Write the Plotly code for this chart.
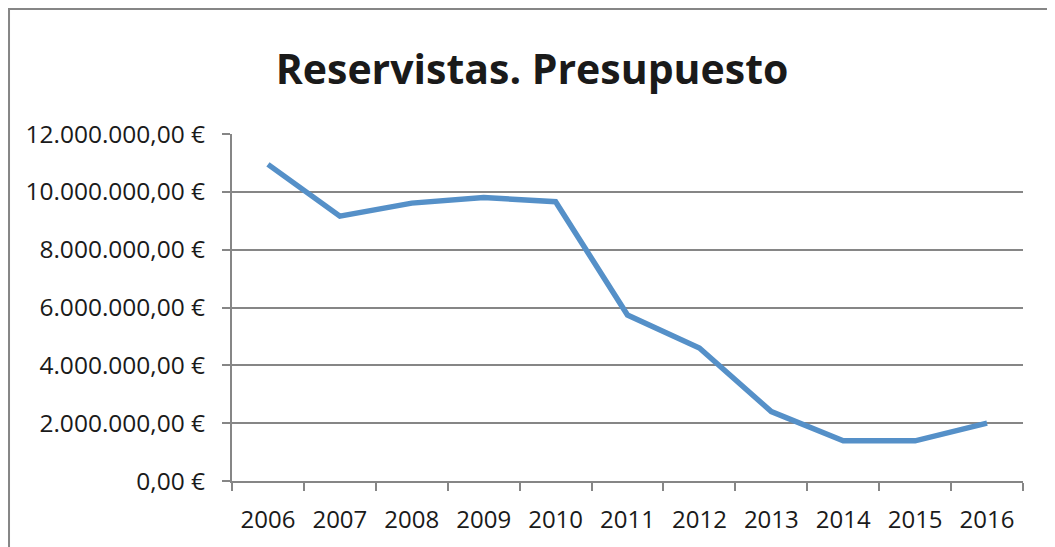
import plotly.graph_objects as go

years = ["2006", "2007", "2008", "2009", "2010", "2011",
         "2012", "2013", "2014", "2015", "2016"]
presupuesto = [10950000, 9160000, 9610000, 9800000, 9660000, 5740000,
               4600000, 2400000, 1390000, 1390000, 2000000]
y_ticks = [0, 2000000, 4000000, 6000000, 8000000, 10000000, 12000000]


def euro(v):
    # 12.000.000,00 € style
    s = f"{v:,.2f}".replace(",", "X").replace(".", ",").replace("X", ".")
    return s + " \u20ac"


y_labels = [euro(v) for v in y_ticks]

GRID = "#868686"
LINE = "#5590C8"
FONT = "Open Sans"

fig = go.Figure()
fig.add_scatter(x=years, y=presupuesto, mode="lines",
                line=dict(color=LINE, width=5.5), showlegend=False)

# page body has an 8px margin, so the figure is a bit smaller than the window
fig.update_layout(
    width=1047, height=539,
    margin=dict(l=224, r=32, t=126, b=66),
    plot_bgcolor="white", paper_bgcolor="white",
    font=dict(family=FONT, size=23, color="#1a1a1a"),
    title=dict(text="<b>Reservistas. Presupuesto</b>", x=0.5005, xanchor="center",
               y=0.885, yanchor="middle",
               font=dict(family=FONT, size=41, color="#1a1a1a")),
)

fig.update_xaxes(
    type="category", range=[-0.5, 10.5], tickson="boundaries",
    showgrid=False, showline=True, linecolor=GRID, linewidth=2,
    ticks="outside", ticklen=8, tickwidth=2, tickcolor=GRID,
    ticklabelstandoff=16, tickfont=dict(size=24),
)
fig.update_yaxes(
    range=[0, 12000000], tickvals=y_ticks, ticktext=y_labels,
    showgrid=True, gridcolor=GRID, gridwidth=2,
    showline=True, linecolor=GRID, linewidth=2, zeroline=False,
    ticks="outside", ticklen=8, tickwidth=2, tickcolor=GRID,
    ticklabelstandoff=12, tickfont=dict(size=24.5),
)

# outer chart frame
fig.add_shape(type="rect", xref="paper", yref="paper",
              x0=-0.2819, x1=1.1, y0=-0.3, y1=1.360,
              line=dict(color=GRID, width=2), layer="below")

fig.write_html("out.html")
